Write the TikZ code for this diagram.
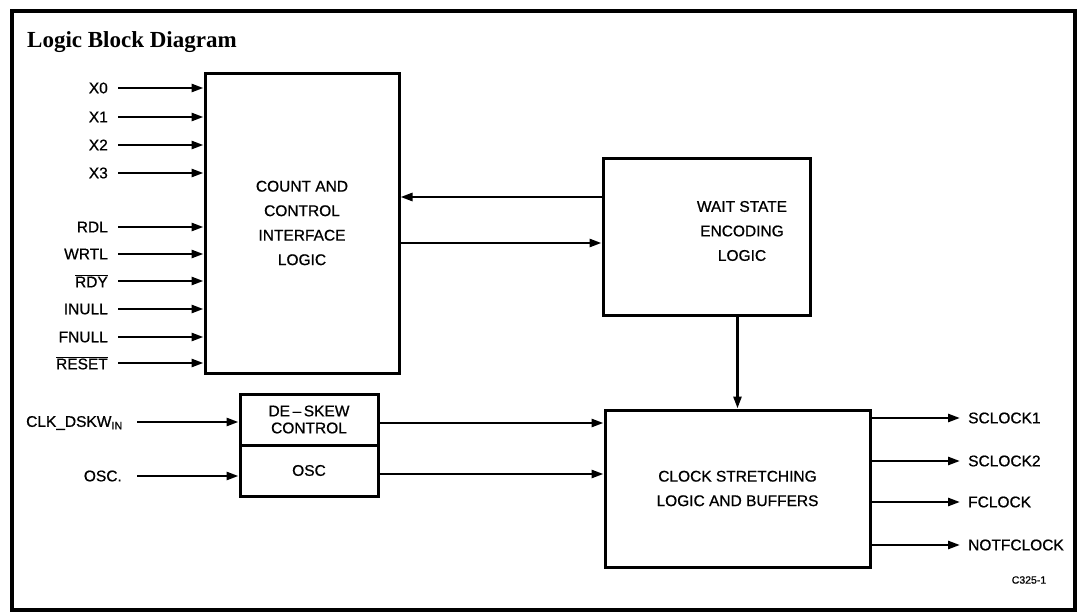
\documentclass[tikz,border=0pt]{standalone}
\usepackage{fontspec}
\setmainfont[FakeBold=0.8]{Liberation Sans}
\newfontfamily\titlefont{Liberation Serif}
\usetikzlibrary{arrows.meta}
\tikzset{
  blk/.style={draw, line width=3pt, rectangle, inner sep=0pt, align=center,
    font=\fontsize{15.5}{24.5}\selectfont},
  arr/.style={line width=2.6pt, -{Triangle[length=12pt,width=8pt]}},
  lbl/.style={inner sep=0pt, font=\fontsize{15.5}{18}\selectfont},
}
\begin{document}
\begin{tikzpicture}[x=1pt,y=-1pt]
\useasboundingbox (0,0) rectangle (1077,613);
\draw[line width=3.2pt] (12,11) rectangle (1075,610);
\node[anchor=west, inner sep=0pt, font=\titlefont\bfseries\fontsize{23}{26}\selectfont] (title) at (27,42) {Logic Block Diagram};

% blocks
\node[blk, minimum width=194pt, minimum height=300pt] (count) at (302,223) {COUNT AND\\CONTROL\\INTERFACE\\LOGIC};
\node[blk, minimum width=207pt, minimum height=157pt] (wait) at (706.5,236.5) {};
\node[lbl, align=center, font=\fontsize{15.5}{24.5}\selectfont] (waittxt) at (742,231) {WAIT STATE\\ENCODING\\LOGIC};
\node[blk, minimum width=265pt, minimum height=157pt] (clock) at (737.5,488.5) {CLOCK STRETCHING\\LOGIC AND BUFFERS};
\node[blk, minimum width=138pt, minimum height=51pt, font=\fontsize{15.5}{17}\selectfont] (deskew) at (309,419.5) {DE\,--\,SKEW\\CONTROL};
\node[blk, minimum width=138pt, minimum height=51pt] (osc) at (309,470.5) {OSC};

% inputs to count block
\foreach \n/\t/\y in {x0/X0/88, x1/X1/117, x2/X2/145, x3/X3/173,
    rdl/RDL/227, wrtl/WRTL/254, rdy/{$\overline{\hbox{RDY}}$}/281,
    inull/INULL/309, fnull/FNULL/337, reset/{$\overline{\hbox{RESET}}$}/363}{
  \node[lbl, anchor=east] (\n) at (108,\y) {\t};
  \draw[arr] ([xshift=10pt]\n.east |- 0,\y) -- (count.west |- 0,\y);
}

% clock inputs
\node[lbl, anchor=east] (clkin) at (123,423) {CLK\_DSKW\textsubscript{IN}};
\node[lbl, anchor=east] (oscin) at (122,476) {OSC.};
\draw[arr] ([xshift=14pt]clkin.east |- 0,422) -- (deskew.west |- 0,422);
\draw[arr] ([xshift=15pt]oscin.east |- 0,476) -- (osc.west |- 0,476);

% deskew/osc to clock
\draw[arr] (deskew.east |- 0,423) -- (clock.west |- 0,423);
\draw[arr] (osc.east |- 0,474) -- (clock.west |- 0,474);

% between count and wait
\draw[arr] (wait.west |- 0,197) -- (count.east |- 0,197);
\draw[arr] (count.east |- 0,243) -- (wait.west |- 0,243);

% wait to clock
\draw[arr] (wait.south -| clock.north) -- (clock.north);

% outputs
\foreach \n/\t/\y in {sc1/SCLOCK1/418, sc2/SCLOCK2/461, fc/FCLOCK/502, nfc/NOTFCLOCK/545}{
  \node[lbl, anchor=west] (\n) at (968,\y) {\t};
  \draw[arr] (clock.east |- 0,\y) -- ([xshift=-8pt]\n.west |- 0,\y);
}

\node[inner sep=0pt, font=\fontsize{10.5}{12}\selectfont] (ref) at (1029,580) {C325-1};
\end{tikzpicture}
\end{document}
